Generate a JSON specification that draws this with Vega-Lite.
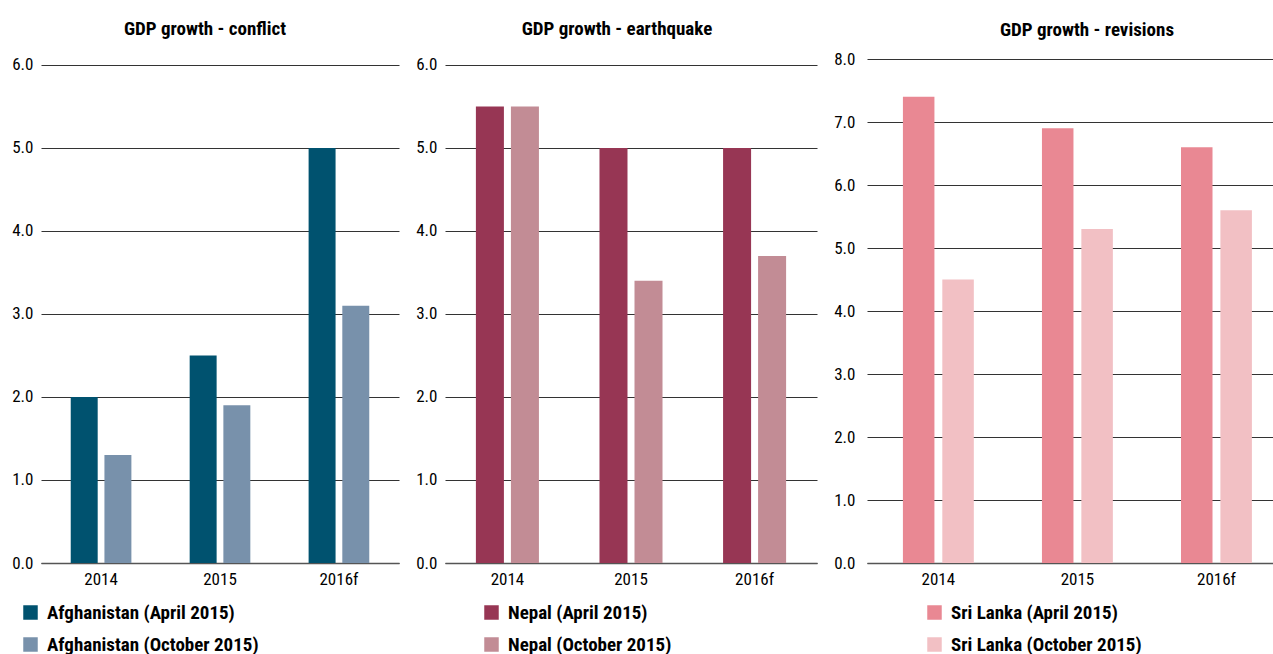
{
  "$schema": "https://vega.github.io/schema/vega-lite/v6.json",
  "padding": {"left": 11, "top": 19, "right": 0, "bottom": 0},
  "background": "white",
  "spacing": 16,
  "resolve": {"scale": {"color": "independent", "xOffset": "independent", "x": "independent", "y": "independent"}, "legend": {"color": "independent"}},
  "config": {
    "font": "Roboto Condensed, Liberation Sans Narrow, Roboto, sans-serif",
    "view": {"stroke": null},
    "title": {"fontSize": 19, "fontWeight": "bold", "color": "#000000", "anchor": "middle", "offset": 17, "font": "Roboto Condensed, Liberation Sans Narrow, Roboto, sans-serif"},
    "axisY": {"grid": true, "gridColor": "#333333", "gridWidth": 1, "domain": false, "ticks": false, "labelFontSize": 17, "labelColor": "#000000", "labelPadding": 8, "title": null, "format": ".1f"},
    "axisX": {"grid": false, "domain": true, "domainColor": "#555555", "domainWidth": 1.5, "ticks": false, "labelFontSize": 17, "labelColor": "#000000", "labelPadding": 8, "labelAngle": 0, "title": null},
    "legend": {"orient": "none", "title": null, "symbolType": "square", "symbolSize": 210, "symbolStrokeWidth": 0, "labelFontSize": 19, "labelFontWeight": "bold", "labelColor": "#000000", "labelLimit": 400, "rowPadding": 12, "labelOffset": 7, "direction": "vertical"}
  },
  "datasets": {
    "afg": [
      {"year": "2014", "series": "Afghanistan (April 2015)", "value": 2.0},
      {"year": "2014", "series": "Afghanistan (October 2015)", "value": 1.3},
      {"year": "2015", "series": "Afghanistan (April 2015)", "value": 2.5},
      {"year": "2015", "series": "Afghanistan (October 2015)", "value": 1.9},
      {"year": "2016f", "series": "Afghanistan (April 2015)", "value": 5.0},
      {"year": "2016f", "series": "Afghanistan (October 2015)", "value": 3.1}
    ],
    "nep": [
      {"year": "2014", "series": "Nepal (April 2015)", "value": 5.5},
      {"year": "2014", "series": "Nepal (October 2015)", "value": 5.5},
      {"year": "2015", "series": "Nepal (April 2015)", "value": 5.0},
      {"year": "2015", "series": "Nepal (October 2015)", "value": 3.4},
      {"year": "2016f", "series": "Nepal (April 2015)", "value": 5.0},
      {"year": "2016f", "series": "Nepal (October 2015)", "value": 3.7}
    ],
    "sri": [
      {"year": "2014", "series": "Sri Lanka (April 2015)", "value": 7.4},
      {"year": "2014", "series": "Sri Lanka (October 2015)", "value": 4.5},
      {"year": "2015", "series": "Sri Lanka (April 2015)", "value": 6.9},
      {"year": "2015", "series": "Sri Lanka (October 2015)", "value": 5.3},
      {"year": "2016f", "series": "Sri Lanka (April 2015)", "value": 6.6},
      {"year": "2016f", "series": "Sri Lanka (October 2015)", "value": 5.6}
    ]
  },
  "hconcat": [
    {
      "width": 358, "height": 504,
      "title": {"text": "GDP growth - conflict", "dx": -15},
      "data": {"name": "afg"},
      "mark": {"type": "bar"},
      "encoding": {
        "x": {"field": "year", "type": "nominal", "sort": null, "scale": {"paddingInner": 0.49, "paddingOuter": 0.25}},
        "xOffset": {"field": "series", "sort": null, "scale": {"paddingInner": 0.2}},
        "y": {"field": "value", "type": "quantitative", "scale": {"domain": [0, 6.072], "nice": false}, "axis": {"values": [0, 1, 2, 3, 4, 5, 6]}},
        "color": {"field": "series", "sort": null, "scale": {"domain": ["Afghanistan (April 2015)", "Afghanistan (October 2015)"], "range": ["#00526F", "#7891AB"]}, "legend": {"legendX": -20, "legendY": 544}}
      }
    },
    {
      "width": 372, "height": 504,
      "title": {"text": "GDP growth - earthquake", "dx": -14},
      "data": {"name": "nep"},
      "mark": {"type": "bar"},
      "encoding": {
        "x": {"field": "year", "type": "nominal", "sort": null, "scale": {"paddingInner": 0.49, "paddingOuter": 0.25}},
        "xOffset": {"field": "series", "sort": null, "scale": {"paddingInner": 0.2}},
        "y": {"field": "value", "type": "quantitative", "scale": {"domain": [0, 6.072], "nice": false}, "axis": {"values": [0, 1, 2, 3, 4, 5, 6]}},
        "color": {"field": "series", "sort": null, "scale": {"domain": ["Nepal (April 2015)", "Nepal (October 2015)"], "range": ["#973654", "#C28C95"]}, "legend": {"legendX": 37, "legendY": 544}}
      }
    },
    {
      "width": 406, "height": 504,
      "title": {"text": "GDP growth - revisions", "dx": 17, "offset": 10},
      "data": {"name": "sri"},
      "mark": {"type": "bar"},
      "encoding": {
        "x": {"field": "year", "type": "nominal", "sort": null, "scale": {"paddingInner": 0.49, "paddingOuter": 0.205, "align": 0.63}},
        "xOffset": {"field": "series", "sort": null, "scale": {"paddingInner": 0.2}},
        "y": {"field": "value", "type": "quantitative", "scale": {"domain": [0, 8], "nice": false}, "axis": {"values": [0, 1, 2, 3, 4, 5, 6, 7, 8], "labelPadding": 12}},
        "color": {"field": "series", "sort": null, "scale": {"domain": ["Sri Lanka (April 2015)", "Sri Lanka (October 2015)"], "range": ["#E98893", "#F2C0C4"]}, "legend": {"legendX": 58, "legendY": 544}}
      }
    }
  ]
}
